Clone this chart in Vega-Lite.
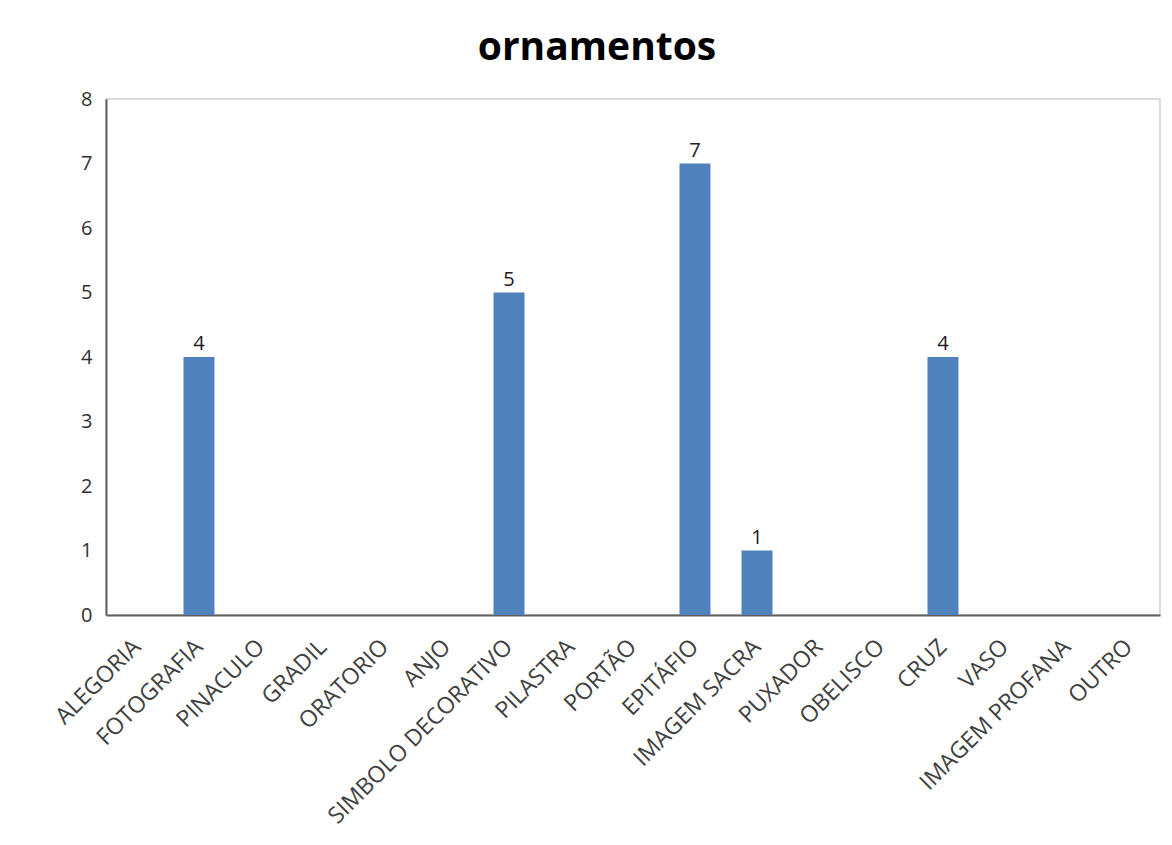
{
  "$schema": "https://vega.github.io/schema/vega-lite/v6.json",
  "autosize": {"type": "none"},
  "width": 1054,
  "height": 516,
  "padding": {"left": 106, "top": 99, "right": 12, "bottom": 230},
  "background": "white",
  "title": {
    "text": "ornamentos",
    "font": "Open Sans",
    "fontSize": 39,
    "fontWeight": "bold",
    "color": "#000000",
    "anchor": "middle",
    "offset": 21,
    "dx": -36
  },
  "config": {
    "view": {"stroke": "#d0d0d0", "strokeWidth": 1.5},
    "font": "Open Sans"
  },
  "data": {
    "values": [
      {"categoria": "ALEGORIA", "valor": 0},
      {"categoria": "FOTOGRAFIA", "valor": 4},
      {"categoria": "PINACULO", "valor": 0},
      {"categoria": "GRADIL", "valor": 0},
      {"categoria": "ORATORIO", "valor": 0},
      {"categoria": "ANJO", "valor": 0},
      {"categoria": "SIMBOLO DECORATIVO", "valor": 5},
      {"categoria": "PILASTRA", "valor": 0},
      {"categoria": "PORTÃO", "valor": 0},
      {"categoria": "EPITÁFIO", "valor": 7},
      {"categoria": "IMAGEM SACRA", "valor": 1},
      {"categoria": "PUXADOR", "valor": 0},
      {"categoria": "OBELISCO", "valor": 0},
      {"categoria": "CRUZ", "valor": 4},
      {"categoria": "VASO", "valor": 0},
      {"categoria": "IMAGEM PROFANA", "valor": 0},
      {"categoria": "OUTRO", "valor": 0}
    ]
  },
  "encoding": {
    "x": {
      "field": "categoria",
      "type": "nominal",
      "sort": null,
      "scale": {"paddingInner": 0.5, "paddingOuter": 0.25},
      "axis": {
        "title": null,
        "labelAngle": -45,
        "labelAlign": "right",
        "labelBaseline": "middle",
        "labelFontSize": 23,
        "labelLimit": 0,
        "labelOverlap": false,
        "labelColor": "#404040",
        "labelPadding": 28,
        "ticks": false,
        "domainColor": "#606060",
        "domainWidth": 2
      }
    },
    "y": {
      "field": "valor",
      "type": "quantitative",
      "scale": {"domain": [0, 8]},
      "axis": {
        "title": null,
        "tickCount": 8,
        "grid": false,
        "ticks": false,
        "labelFontSize": 20,
        "labelColor": "#303030",
        "labelPadding": 14,
        "domainColor": "#606060",
        "domainWidth": 2
      }
    }
  },
  "layer": [
    {
      "mark": {"type": "bar", "color": "#4f81bd"}
    },
    {
      "transform": [{"filter": "datum.valor > 0"}],
      "mark": {"type": "text", "baseline": "bottom", "dy": -3, "fontSize": 20, "color": "#202020"},
      "encoding": {"text": {"field": "valor", "type": "quantitative"}}
    }
  ]
}
